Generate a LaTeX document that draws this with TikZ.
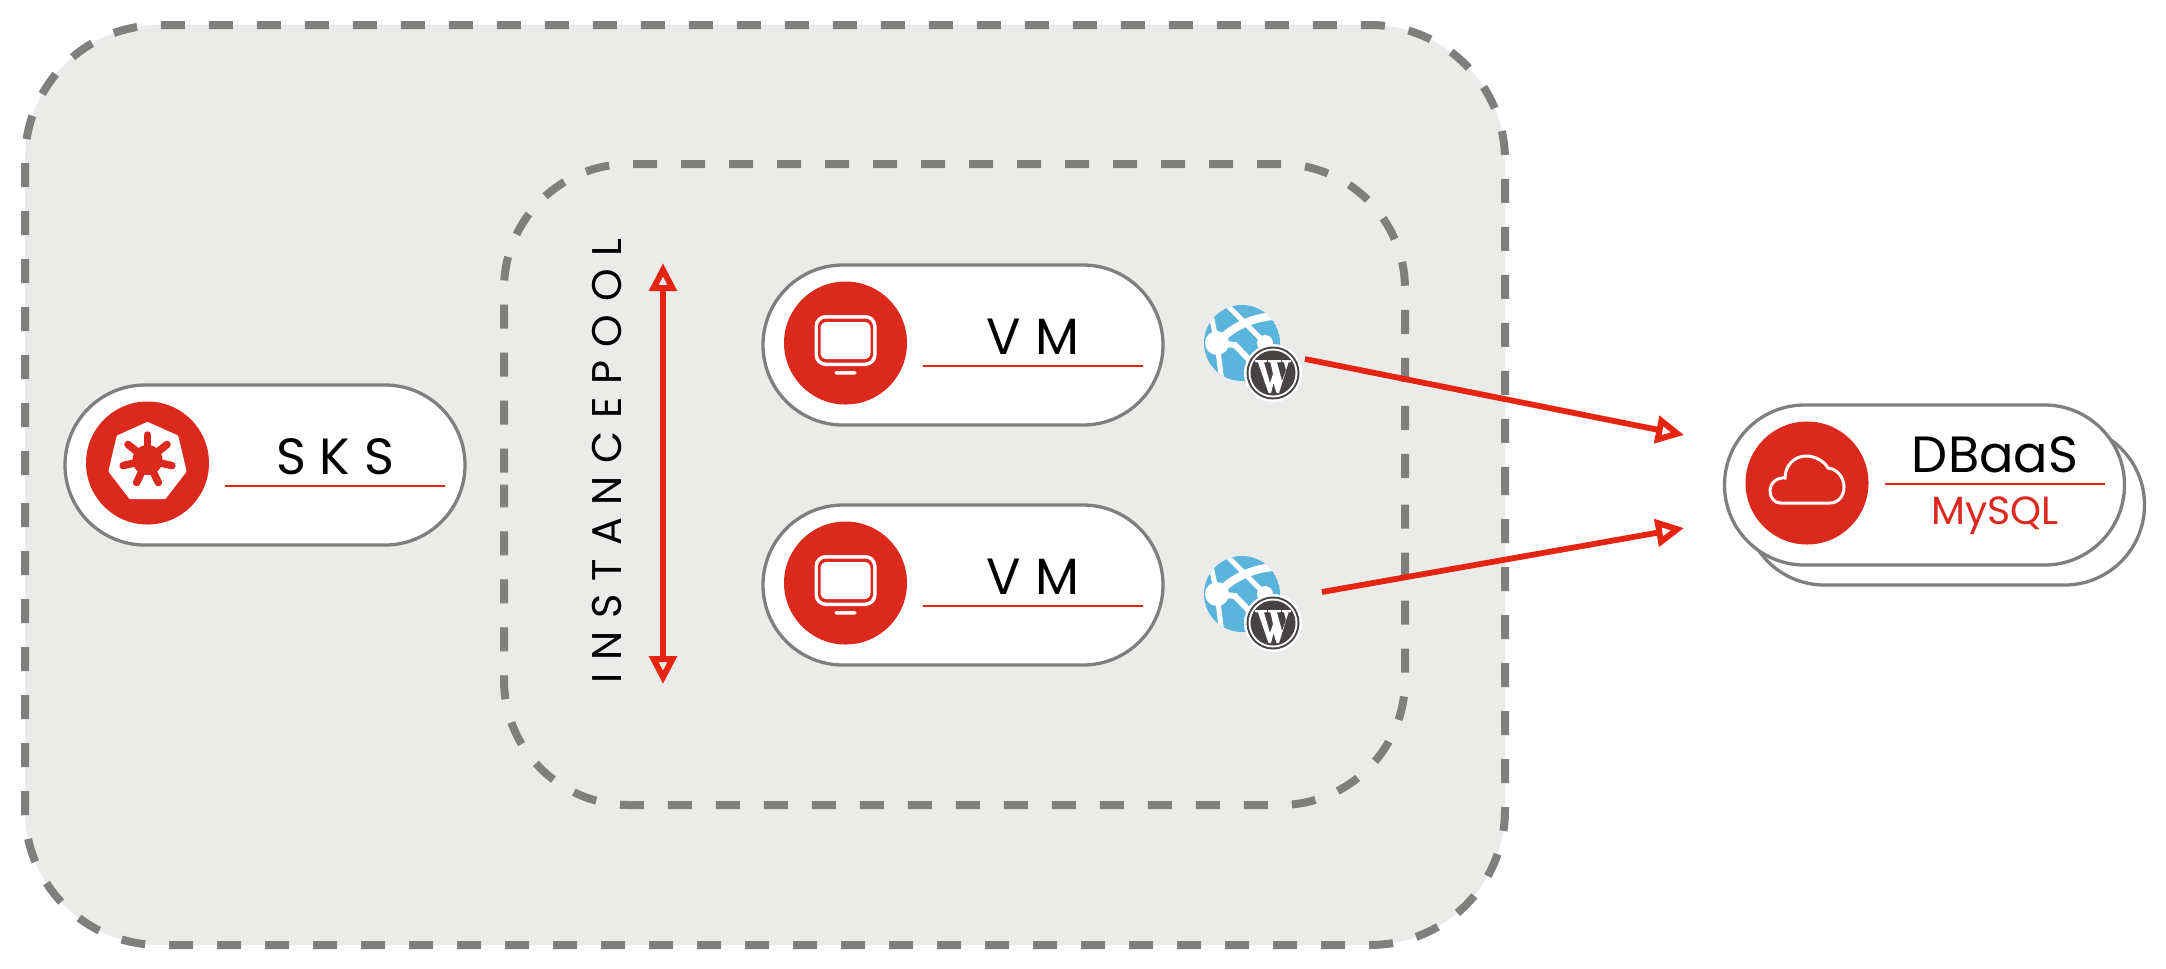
\documentclass[tikz,border=0pt]{standalone}
\usepackage{fontspec}
\setmainfont{Poppins}
\usetikzlibrary{arrows.meta,positioning,shapes.misc}
\definecolor{exored}{HTML}{DC291E}
\definecolor{linered}{HTML}{E62412}
\definecolor{zonegray}{HTML}{EBEBEA}
\definecolor{edgegray}{HTML}{7F7F7E}
\definecolor{globeblue}{HTML}{5AB4DB}
\definecolor{wpdark}{HTML}{464342}

\begin{document}
\begin{tikzpicture}[
  x=0.1mm, y=-0.1mm,
  zone/.style={fill=zonegray, inner sep=0pt, outer sep=0pt},
  zoneline/.style={draw=edgegray, line width=0.8mm, dash pattern=on 2.4mm off 2.4mm},
  pill/.style={draw=edgegray, fill=white, rounded rectangle, rounded rectangle arc length=180, line width=0.33mm, minimum width=4cm, minimum height=1.6cm, inner sep=0pt, outer sep=0pt},
  badge/.style={circle, fill=exored, minimum size=1.23cm, inner sep=0pt, outer sep=0pt, yshift=0.2mm},
  rulebar/.style={fill=linered, minimum width=2.2cm, minimum height=0.15mm, inner sep=0pt, outer sep=0pt},
  title/.style={inner sep=0pt, font=\fontsize{14.5}{17}\selectfont},
  pointer/.style={-{Triangle[open,length=2.8mm,width=2.7mm,line width=0.6mm]}, line width=0.58mm, linered},
  bothways/.style={{Triangle[open,length=2.8mm,width=2.7mm,line width=0.6mm]}-{Triangle[open,length=2.8mm,width=2.7mm,line width=0.6mm]}, line width=0.58mm, linered},
  monitor/.pic={
    \fill[white, rounded corners=1.1mm] (-31,-28) rectangle (31,23);
    \fill[exored, rounded corners=0.8mm] (-27.5,-24.5) rectangle (27.5,19.5);
    \fill[white, rounded corners=0.6mm] (-25,-21) rectangle (25,16);
    \fill[white, rounded corners=0.15mm] (-11,28) rectangle (11,31.5);
  },
  kubewheel/.pic={
    \fill[white, line join=round, draw=white, line width=0.4mm] (0,-39) -- (29,-26) -- (37,8) -- (17,34) -- (-17,34) -- (-37,8) -- (-29,-26) -- cycle;
    \fill[exored] (0,-3) circle[radius=15];
    \foreach \a in {0,...,6}
      \draw[exored, line width=0.75mm, line cap=round] (0,-3) -- ++({90+\a*360/7}:-25);
  },
  cloudline/.pic={
    \draw[white, line width=0.3mm] (-27,20) -- (23,20)
      .. controls (32,20) and (37,12) .. (37,4)
      .. controls (37,-6) and (30,-14) .. (21,-15)
      .. controls (17,-22) and (8,-27) .. (-1,-27)
      .. controls (-13,-27) and (-22,-17) .. (-22,-5)
      .. controls (-30,-6) and (-37,0) .. (-37,8)
      .. controls (-37,15) and (-32,20) .. (-27,20) -- cycle;
  },
  globeicon/.pic={
    \begin{scope}
      \clip (0,0) circle[radius=38];
      \fill[globeblue] (0,0) circle[radius=38];
      \draw[white, line width=0.8mm] (-25,0) .. controls (-12,-14) and (5,-24) .. (30,-27);
      \draw[white, line width=0.5mm] (-17,-40) -- (23,0) -- (23,30);
      \draw[white, line width=0.5mm] (-25,0) -- (-31,-28);
      \draw[white, line width=0.5mm] (-25,0) -- (-20,40);
      \draw[white, line width=0.6mm] (-25,0) -- (-7,2) -- (15,25);
      \fill[white] (-25,0) circle[radius=12];
      \fill[white] (23,0) circle[radius=8];
    \end{scope}
  },
  wpbadge/.pic={
    \fill[white] (0,0) circle[radius=29];
    \fill[wpdark] (0,0) circle[radius=26.5];
    \fill[white] (0,0) circle[radius=24.5];
    \fill[wpdark] (0,0) circle[radius=22.5];
    \fill[white] (-18,-13) -- (-6,-13) -- (-6,-11) -- (-9,-10.5) -- (-3,10) -- (0,1) -- (-2.5,-10.5) -- (-5,-11) -- (-5,-13)
      -- (8,-13) -- (8,-11) -- (4,-10.5) -- (9,8) -- (13,-3) -- (11,-10.5) -- (9,-11) -- (9,-13) -- (18,-13) -- (18,-11) -- (15.5,-10.5)
      -- (6,20) -- (3.5,20) -- (0.5,10) -- (-2,20) -- (-4.5,20) -- (-15,-10.5) -- (-18,-11) -- cycle;
  }
]
\useasboundingbox (0,0) rectangle (2166,968);

% zones
\node[zone, rounded corners=1.35cm, minimum width=14.8cm, minimum height=9.2cm] (cluster) at (765,485) {};
\draw[zoneline, rounded corners=1.35cm, dash phase=3.8mm] (cluster.west) |- (cluster.north) -| (cluster.east);
\draw[zoneline, rounded corners=1.35cm, dash phase=1.4mm] (cluster.east) |- (cluster.south) -| (cluster.west);
\node[zone, rounded corners=1.25cm, minimum width=9.01cm, minimum height=6.41cm] (instancepool) at (954.5,484.5) {};
\draw[zoneline, rounded corners=1.25cm, dash phase=3.6mm] (instancepool.west) |- (instancepool.north) -| (instancepool.east);
\draw[zoneline, rounded corners=1.25cm, dash phase=2.8mm] (instancepool.east) |- (instancepool.south) -| (instancepool.west);

% SKS
\node[pill] (sks) at (265,465) {};
\node[badge, right=0.21cm of sks.west] (sksicon) {};
\pic at (sksicon) {kubewheel};
\node[rulebar] (sksrule) at (335,486) {};
\node[title, above=0.12cm of sksrule.center, anchor=base] (skslabel) {\addfontfeature{LetterSpace=27}SKS};

% VMs
\node[pill] (vma) at (963,345) {};
\node[badge, right=0.21cm of vma.west] (vmaicon) {};
\pic at (vmaicon) {monitor};
\node[rulebar] (vmarule) at (1033,366) {};
\node[title, above=0.12cm of vmarule.center, anchor=base] (vmalabel) {\addfontfeature{LetterSpace=28}VM};
\pic at (1242,343) {globeicon};
\pic at (1273,373) {wpbadge};

\node[pill] (vmb) at (963,585) {};
\node[badge, right=0.21cm of vmb.west] (vmbicon) {};
\pic at (vmbicon) {monitor};
\node[rulebar] (vmbrule) at (1033,606) {};
\node[title, above=0.12cm of vmbrule.center, anchor=base] (vmblabel) {\addfontfeature{LetterSpace=28}VM};
\pic at (1242,594) {globeicon};
\pic at (1273,623) {wpbadge};

% DBaaS
\node[pill] (dbback) at (1944.5,505) {};
\node[pill] (dbaas) at (1924.5,485) {};
\node[badge, right=0.21cm of dbaas.west] (dbicon) {};
\pic at (dbicon) {cloudline};
\node[rulebar] (dbrule) at (1995,484) {};
\node[title, above=0.12cm of dbrule.center, anchor=base] (dblabel) {DBaaS};
\node[title, below=0.4cm of dbrule.center, anchor=base, text=exored, font=\fontsize{11.2}{13}\selectfont] (dbsub) {MySQL};

% scale arrow
\node[inner sep=0pt, rotate=90, anchor=base, font=\fontsize{11.8}{14}\selectfont] (poollabel) at (621,461) {\addfontfeature{LetterSpace=31}INSTANCEPOOL};
\coordinate (scaletop) at (663,263);
\coordinate (scalebot) at (663,684);
\draw[bothways] (scaletop) -- (scalebot);

% connections
\coordinate (wpa) at (1305,359);
\coordinate (wpb) at (1322,592);
\coordinate (dbina) at (1684,435);
\coordinate (dbinb) at (1684,528);
\draw[pointer] (wpa) -- (dbina);
\draw[pointer] (wpb) -- (dbinb);
\end{tikzpicture}
\end{document}
